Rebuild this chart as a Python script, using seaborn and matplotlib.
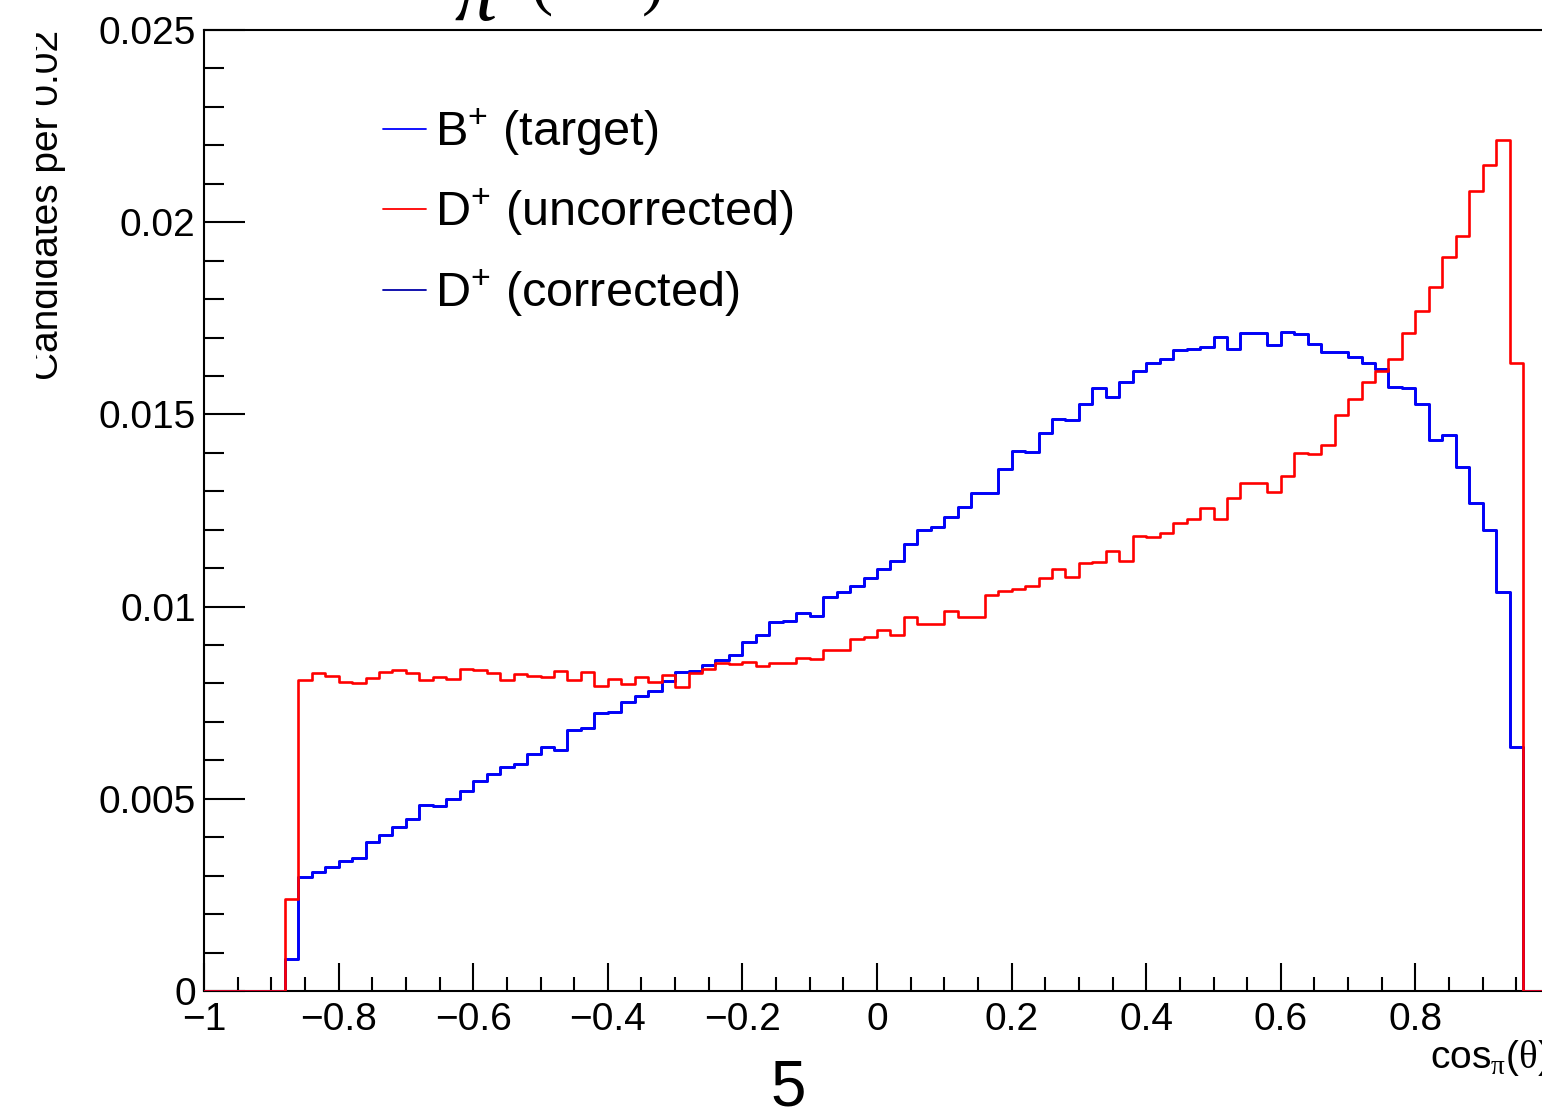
import numpy as np
import matplotlib
matplotlib.use("Agg")
import matplotlib.pyplot as plt
import seaborn as sns
from matplotlib.ticker import MultipleLocator, FuncFormatter
from matplotlib.transforms import Bbox, TransformedBbox

# 100 bins of width 0.02 on [-1, 1]
n_bins = 100
bin_centres = np.linspace(-1, 1, n_bins + 1)[:-1] + 0.01

b_target = [
    0, 0, 0, 0, 0, 0, 0.00082, 0.00296, 0.00310, 0.00322,
    0.00337, 0.00345, 0.00387, 0.00405, 0.00426, 0.00447, 0.00484, 0.00481, 0.00500, 0.00520,
    0.00546, 0.00565, 0.00584, 0.00591, 0.00617, 0.00636, 0.00628, 0.00679, 0.00683, 0.00724,
    0.00725, 0.00753, 0.00768, 0.00780, 0.00807, 0.00829, 0.00832, 0.00848, 0.00861, 0.00873,
    0.00907, 0.00926, 0.00960, 0.00962, 0.00984, 0.00976, 0.01026, 0.01039, 0.01054, 0.01075,
    0.01097, 0.01119, 0.01162, 0.01199, 0.01206, 0.01234, 0.01260, 0.01295, 0.01295, 0.01358,
    0.01406, 0.01401, 0.01452, 0.01488, 0.01485, 0.01527, 0.01568, 0.01546, 0.01585, 0.01613,
    0.01635, 0.01643, 0.01668, 0.01669, 0.01676, 0.01702, 0.01669, 0.01711, 0.01711, 0.01681,
    0.01715, 0.01708, 0.01682, 0.01663, 0.01662, 0.01649, 0.01635, 0.01617, 0.01572, 0.01568,
    0.01526, 0.01433, 0.01446, 0.01363, 0.01269, 0.01199, 0.01037, 0.00634, 0, 0,
]

d_uncorrected = [
    0, 0, 0, 0, 0, 0, 0.00239, 0.00809, 0.00827, 0.00819,
    0.00805, 0.00802, 0.00813, 0.00831, 0.00834, 0.00828, 0.00809, 0.00818, 0.00811, 0.00837,
    0.00834, 0.00826, 0.00809, 0.00824, 0.00820, 0.00818, 0.00832, 0.00809, 0.00831, 0.00794,
    0.00811, 0.00799, 0.00816, 0.00805, 0.00821, 0.00790, 0.00827, 0.00837, 0.00854, 0.00850,
    0.00855, 0.00845, 0.00853, 0.00854, 0.00867, 0.00864, 0.00887, 0.00887, 0.00915, 0.00922,
    0.00939, 0.00926, 0.00974, 0.00954, 0.00955, 0.00989, 0.00974, 0.00972, 0.01030, 0.01041,
    0.01047, 0.01054, 0.01075, 0.01098, 0.01076, 0.01113, 0.01117, 0.01145, 0.01118, 0.01184,
    0.01182, 0.01191, 0.01217, 0.01227, 0.01257, 0.01227, 0.01283, 0.01321, 0.01321, 0.01298,
    0.01340, 0.01399, 0.01396, 0.01420, 0.01498, 0.01539, 0.01585, 0.01612, 0.01643, 0.01713,
    0.01769, 0.01832, 0.01910, 0.01965, 0.02082, 0.02149, 0.02214, 0.01635, 0, 0,
]

# corrected D+ sits on top of the B+ target
d_corrected = b_target

labels = ["B$^{+}$ (target)", "D$^{+}$ (uncorrected)", "D$^{+}$ (corrected)"]
colors = ["#0000ff", "#ff0000", "#0000a8"]

sns.set_style("ticks")
plt.rcParams["font.family"] = ["Liberation Sans", "DejaVu Sans"]
plt.rcParams["mathtext.fontset"] = "custom"
plt.rcParams["mathtext.rm"] = "Liberation Serif"
plt.rcParams["mathtext.default"] = "regular"
plt.rcParams["axes.linewidth"] = 1.5
for key in ["text.color", "axes.labelcolor", "axes.edgecolor", "xtick.color", "ytick.color"]:
    plt.rcParams[key] = "black"

fig = plt.figure(figsize=(15.42, 11.12), dpi=100)
ax = fig.add_axes([204 / 1542, 1 - 991 / 1112, 1346 / 1542, 961 / 1112])

series = [b_target, d_uncorrected, d_corrected]
zorders = [3, 4, 2]
for vals, lab, col, z in zip(series, labels, colors, zorders):
    sns.histplot(
        x=bin_centres, weights=vals, bins=n_bins, binrange=(-1, 1), element="step",
        fill=False, color=col, linewidth=1.9, label=lab, ax=ax, zorder=z,
    )

ax.set_xlim(-1, 1)
ax.set_ylim(0, 0.025)
ax.set_xlabel("")
ax.set_ylabel("")
ax.spines["right"].set_visible(False)

ax.xaxis.set_major_locator(MultipleLocator(0.2))
ax.xaxis.set_minor_locator(MultipleLocator(0.05))
ax.yaxis.set_major_locator(MultipleLocator(0.005))
ax.yaxis.set_minor_locator(MultipleLocator(0.001))


def fmt(v, pos):
    v = round(v, 6) + 0.0
    if v >= 0.999:
        return ""
    return f"{v:g}".replace("-", "\u2212")


ax.xaxis.set_major_formatter(FuncFormatter(fmt))
ax.yaxis.set_major_formatter(FuncFormatter(lambda v, p: f"{round(v, 6) + 0.0:g}"))

ax.tick_params(axis="y", which="major", direction="in", length=29.5, width=1.5,
               labelsize=28, pad=6)
ax.tick_params(axis="y", which="minor", direction="in", length=14.5, width=1.5)
ax.tick_params(axis="x", which="major", direction="in", length=20, width=1.5,
               labelsize=28, pad=8)
ax.tick_params(axis="x", which="minor", direction="in", length=10, width=1.5)
ax.tick_params(top=False, right=False, which="both")

leg = ax.legend(
    loc="upper left", bbox_to_anchor=(0.133, 0.921), frameon=False, fontsize=35,
    handlelength=0.875, handletextpad=0.2, labelspacing=0.59,
    borderpad=0, borderaxespad=0,
)
for line in leg.get_lines():
    line.set_linewidth(1.3)

# x title, right-aligned to the end of the axis
ax.text(1.0, -0.08, r"cos$_{\mathrm{\pi}}$($\mathrm{\theta}$)", transform=ax.transAxes,
        ha="right", va="baseline", fontsize=28)

# y title, right-aligned to the top of the axis and cut on its left side
ylab = fig.text(66 / 1542, 1 - 30 / 1112, "Candidates per 0.02", rotation=90,
                ha="right", va="top", fontsize=28)
ylab.set_clip_on(True)
ylab.set_clip_box(TransformedBbox(Bbox([[36 / 1542, 0], [1, 1]]), fig.transFigure))

# leftovers of the page layout, cut by the top edge
fig.text(455 / 1542, 1 - 20 / 1112, "\u03c0", fontsize=61,
         family="Liberation Serif", style="italic", ha="left", va="baseline")
fig.text(530 / 1542, 1 - 2 / 1112, "(", fontsize=48, family="Liberation Serif",
         ha="left", va="baseline")
fig.text(664 / 1542, 1 - 2 / 1112, ")", fontsize=48, family="Liberation Serif",
         ha="right", va="baseline")
fig.text(788 / 1542, 1 - 1089 / 1112, "5", fontsize=46, ha="center", va="center")

fig.savefig("out.png", dpi=100)
